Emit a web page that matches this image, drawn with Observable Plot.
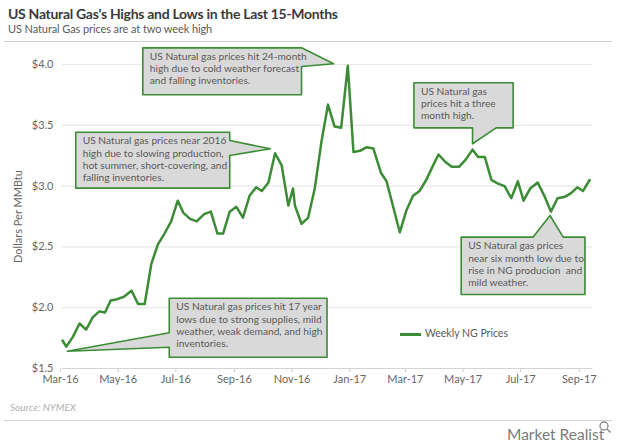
<!DOCTYPE html>
<html>
<head>
<meta charset="utf-8">
<script src="https://cdn.jsdelivr.net/npm/d3@7"></script>
<script src="https://cdn.jsdelivr.net/npm/@observablehq/plot@0.6"></script>
<style>
  html, body { margin: 0; padding: 0; background: #fff; }
  #root { position: relative; width: 620px; height: 443px; overflow: hidden; background: #fff; font-family: Lato, "Open Sans", sans-serif; }
  .abs { position: absolute; white-space: nowrap; }
</style>
</head>
<body>
<div id="root">
  <div class="abs" style="left:8px;top:5px;font-weight:bold;font-size:14px;letter-spacing:-0.3px;color:#3a3a3a;">US Natural Gas's Highs and Lows in the Last 15-Months</div>
  <div class="abs" style="left:8px;top:22px;font-size:11px;letter-spacing:-0.1px;color:#5a5a5a;">US Natural Gas prices are at two week high</div>
  <div class="abs" style="left:4px;top:41px;width:608px;height:1px;background:#cfcfcf;"></div>
  <div id="chart" class="abs" style="left:0;top:0;"></div>
  <div class="abs" style="left:400px;top:327px;font-size:10.5px;color:#5a5a5a;">
    <span style="display:inline-block;width:21px;height:2.5px;background:#3c8c36;vertical-align:middle;margin-right:4px;"></span>Weekly NG Prices
  </div>
  <div class="abs" style="left:10px;top:401px;font-size:10px;font-style:italic;color:#b0b0b0;">Source: NYMEX</div>
  <div class="abs" style="left:4px;top:420px;width:608px;height:1px;background:#cfcfcf;"></div>
  <div class="abs" style="left:507px;top:425px;font-size:15.5px;color:#7a7a7a;">Market Realist</div>
  <svg class="abs" style="left:598px;top:420px;" width="14" height="14" viewBox="0 0 14 14">
    <circle cx="6" cy="6" r="4" fill="none" stroke="#8a8a8a" stroke-width="1.3"/>
    <line x1="9" y1="9" x2="12.5" y2="12.5" stroke="#8a8a8a" stroke-width="1.6"/>
  </svg>
</div>
<script>
// ---- Data ----
const weekDates = ["2016-03-03","2016-03-07","2016-03-14","2016-03-21","2016-03-28","2016-04-04","2016-04-11","2016-04-17","2016-04-23","2016-04-30","2016-05-07","2016-05-15","2016-05-22","2016-05-29","2016-06-05","2016-06-12","2016-06-19","2016-06-26","2016-07-03","2016-07-09","2016-07-16","2016-07-23","2016-07-31","2016-08-07","2016-08-14","2016-08-20","2016-08-27","2016-09-03","2016-09-10","2016-09-17","2016-09-24","2016-09-30","2016-10-07","2016-10-14","2016-10-21","2016-10-28","2016-11-02","2016-11-04","2016-11-11","2016-11-18","2016-11-25","2016-12-02","2016-12-09","2016-12-16","2016-12-23","2016-12-30","2017-01-05","2017-01-12","2017-01-19","2017-01-26","2017-02-03","2017-02-09","2017-02-16","2017-02-23","2017-03-02","2017-03-09","2017-03-16","2017-03-23","2017-03-29","2017-04-05","2017-04-12","2017-04-19","2017-04-27","2017-05-04","2017-05-11","2017-05-17","2017-05-24","2017-05-31","2017-06-07","2017-06-14","2017-06-21","2017-06-28","2017-07-04","2017-07-11","2017-07-19","2017-07-26","2017-08-02","2017-08-09","2017-08-16","2017-08-23","2017-08-30","2017-09-05","2017-09-12"];
const ngPrices = [1.73,1.68,1.76,1.87,1.82,1.92,1.97,1.96,2.06,2.07,2.09,2.14,2.03,2.03,2.36,2.52,2.61,2.71,2.88,2.78,2.73,2.71,2.77,2.79,2.61,2.61,2.79,2.83,2.74,2.92,2.99,2.96,3.03,3.27,3.17,2.84,2.98,2.84,2.69,2.74,2.98,3.36,3.67,3.49,3.48,3.99,3.28,3.29,3.32,3.31,3.11,3.04,2.83,2.62,2.80,2.92,2.96,3.05,3.15,3.26,3.20,3.16,3.16,3.22,3.30,3.24,3.24,3.05,3.02,3.00,2.90,3.04,2.88,2.98,3.03,2.92,2.79,2.90,2.91,2.94,2.99,2.96,3.05];
const xTickMonths = ["2016-03-01","2016-05-01","2016-07-01","2016-09-01","2016-11-01","2017-01-01","2017-03-01","2017-05-01","2017-07-01","2017-09-01"];
const yTickValues = [1.5, 2.0, 2.5, 3.0, 3.5, 4.0];

const calloutTexts = [
  "US Natural gas prices hit 24-month\nhigh due to cold weather forecast\nand falling inventories.",
  "US Natural gas prices near 2016\nhigh due to slowing production,\nhot summer, short-covering, and\nfalling inventories.",
  "US Natural gas\nprices hit a three\nmonth high.",
  "US Natural gas prices\nnear six month low due to\nrise in NG producion  and\nmild weather.",
  "US Natural gas prices hit 17 year\nlows due to strong supplies, mild\nweather, weak demand, and high\ninventories."
];
// callout outlines (date, $) — first vertex is the top-left corner of the box
const calloutOutlines = [
  [["2016-05-27",4.137],["2016-11-11",4.137],["2016-12-15",4.006],["2016-11-11",3.984],["2016-11-11",3.751],["2016-05-27",3.751]],
  [["2016-03-17",3.443],["2016-08-27",3.443],["2016-08-27",3.375],["2016-10-09",3.307],["2016-08-27",3.252],["2016-08-27",2.983],["2016-03-17",2.983]],
  [["2017-03-10",3.850],["2017-06-23",3.850],["2017-06-23",3.479],["2017-06-05",3.479],["2017-05-11",3.348],["2017-05-11",3.479],["2017-03-10",3.479]],
  [["2017-04-29",2.580],["2017-07-14",2.580],["2017-08-01",2.758],["2017-08-15",2.580],["2017-09-07",2.580],["2017-09-07",2.109],["2017-04-29",2.109]],
  [["2016-06-24",2.078],["2016-12-08",2.078],["2016-12-08",1.593],["2016-06-24",1.593],["2016-06-24",1.675],["2016-03-08",1.642],["2016-06-24",1.794]]
];

// ---- Build tables ----
const series = weekDates.map((d, i) => ({date: new Date(d), price: ngPrices[i]}));
const outlinePts = calloutOutlines.flatMap((pts, k) => pts.map(([d, v]) => ({id: k, date: new Date(d), v})));
const labels = calloutOutlines.map((pts, k) => ({date: new Date(pts[0][0]), v: pts[0][1], text: calloutTexts[k]}));

const green = "#3c8c36";

const chart = Plot.plot({
  width: 620,
  height: 400,
  marginLeft: 62,
  marginRight: 28,
  marginTop: 64,
  marginBottom: 32,
  x: {type: "utc", domain: [new Date("2016-03-03"), new Date("2017-09-15")]},
  y: {domain: [1.5, 4.0]},
  style: {fontFamily: "Lato, 'Open Sans', sans-serif", fontSize: "11px", color: "#666", background: "transparent", overflow: "visible"},
  marks: [
    Plot.gridY(yTickValues.slice(1), {stroke: "#e8e8e8", strokeOpacity: 1, strokeWidth: 1.2}),
    Plot.ruleY([1.5], {stroke: "#d4d4d4"}),
    Plot.axisY({ticks: yTickValues, tickFormat: d => "$" + d.toFixed(1), tickSize: 0, tickPadding: 9, fill: "#666",
      label: "Dollars Per MMBtu", labelAnchor: "center", labelArrow: "none", labelOffset: 48}),
    Plot.axisX({ticks: xTickMonths.map(d => new Date(d)), tickFormat: d3.utcFormat("%b-%y"), tickSize: 4, tickPadding: 3,
      stroke: "#cfcfcf", fill: "#666", label: null}),
    Plot.line(series, {x: "date", y: "price", stroke: green, strokeWidth: 2.5}),
    Plot.line(outlinePts, {x: "date", y: "v", z: "id", curve: "linear-closed", fill: "#d9d9d9", stroke: green, strokeWidth: 1.6}),
    Plot.text(labels, {x: "date", y: "v", text: "text", textAnchor: "start", lineAnchor: "top", dx: 7, dy: 3.5,
      fontSize: 10.2, lineHeight: 1.2, fill: "#595959"})
  ]
});
document.getElementById("chart").appendChild(chart);
</script>
</body>
</html>
